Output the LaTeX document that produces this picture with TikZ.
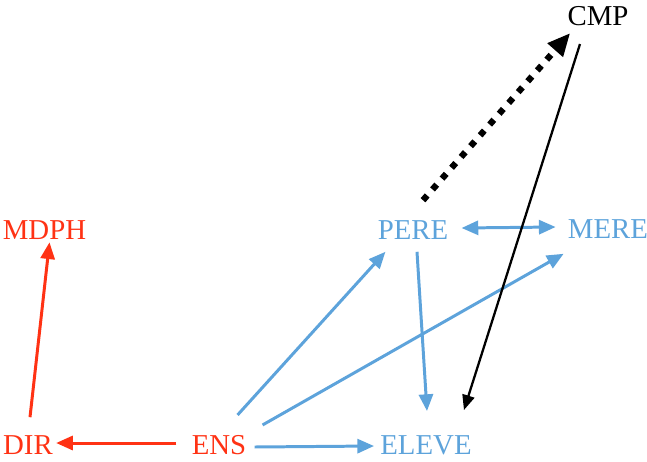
\documentclass[tikz,border=0pt]{standalone}
\usepackage{fontspec}
\setmainfont{Liberation Serif}
\usetikzlibrary{arrows.meta,calc}
\definecolor{bleu}{RGB}{93,163,219}
\definecolor{rouge}{RGB}{255,50,20}
\begin{document}
\begin{tikzpicture}[x=0.02cm,y=-0.02cm,
	lab/.style={inner sep=0pt,font=\fontsize{16.4}{18}\selectfont},
	fb/.style={color=bleu,line width=1.7pt,-{Triangle[length=9.5pt,width=8pt]}},
	fr/.style={color=rouge,line width=1.7pt,-{Triangle[length=9.5pt,width=8pt]}}]
		\useasboundingbox (0,0) rectangle (647,461);
		\node[lab,text=black](cmp) at (598,16){CMP};
		\node[lab,text=bleu](pere) at (413,230){PERE};
		\node[lab,text=bleu](mere) at (608,229){MERE};
		\node[lab,text=rouge](mdph) at (44.5,230.5){MDPH};
		\node[lab,text=rouge](dir) at (28,445){DIR};
		\node[lab,text=rouge](ens) at (219,445){ENS};
		\node[lab,text=bleu](eleve) at (426,445){ELEVE};
		\draw[fr]($(dir.north)+(2,-18)$)--($(mdph.south)+(5,2)$);
		\draw[fr]($(ens.west)+(-15,-2)$)--($(dir.east)+(3,-2)$);
		\draw[fb]($(ens.east)+(8,2)$)--($(eleve.west)+(-6,1)$);
		\draw[fb]($(ens.north east)+(-9,-20)$)--($(pere.south west)+(8,12)$);
		\draw[fb]($(ens.north east)+(16,-10)$)--($(mere.south west)+(-4,15)$);
		\draw[fb]($(pere.south)+(4,12)$)--($(eleve.north)+(1,-24)$);
		\draw[fb,{Triangle[length=9.5pt,width=8pt]}-{Triangle[length=9.5pt,width=8pt]}]($(pere.east)+(13,-2)$)--($(mere.west)+(-12,-2)$);
		\draw[line width=3.6pt,dash pattern=on 3.6pt off 4.6pt,-{Triangle[length=13pt,width=11pt]}]($(pere.north)+(10,-20)$)--($(cmp.south west)+(3,7)$);
		\draw[line width=1.3pt,-{Triangle[length=8.5pt,width=7pt]}]($(cmp.south)+(-18,18)$)--($(eleve.north east)+(-8,-25)$);
	    \end{tikzpicture}
\end{document}
